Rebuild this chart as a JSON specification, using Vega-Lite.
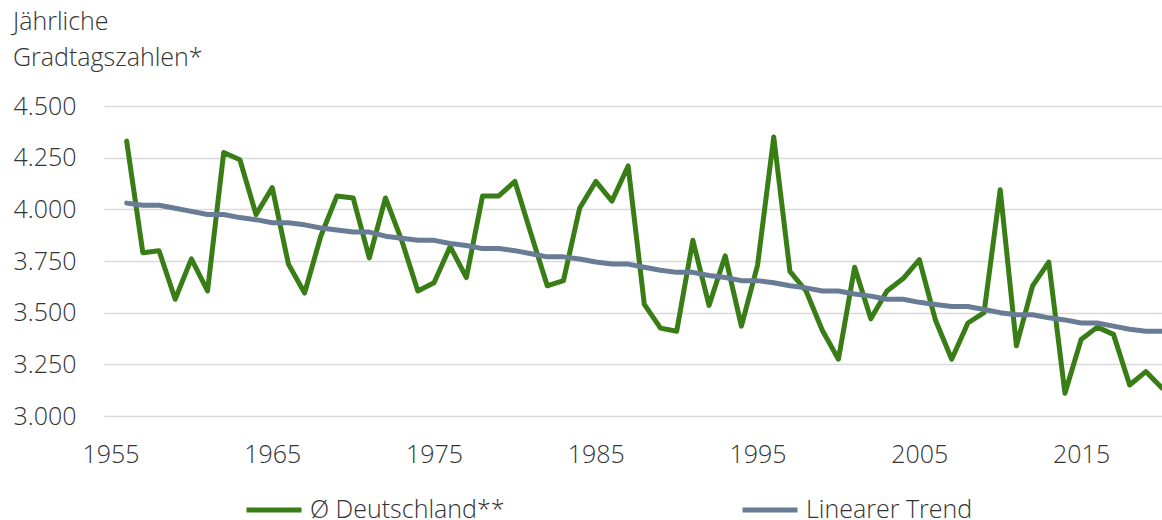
{
  "$schema": "https://vega.github.io/schema/vega-lite/v6.json",
  "autosize": "none",
  "padding": {"left": 104, "top": 106, "right": 0, "bottom": 104},
  "width": 1058,
  "height": 310,
  "background": "white",
  "title": {
    "text": ["Jährliche", "Gradtagszahlen*"],
    "anchor": "start",
    "frame": "group",
    "baseline": "top",
    "dx": -91,
    "offset": 23,
    "font": "Open Sans",
    "fontSize": 25,
    "fontWeight": 300,
    "lineHeight": 36,
    "color": "#333333"
  },
  "data": {
    "values": [
      {"year": 1956, "series": "Ø Deutschland**", "value": 4330},
      {"year": 1957, "series": "Ø Deutschland**", "value": 3790},
      {"year": 1958, "series": "Ø Deutschland**", "value": 3800},
      {"year": 1959, "series": "Ø Deutschland**", "value": 3565},
      {"year": 1960, "series": "Ø Deutschland**", "value": 3760},
      {"year": 1961, "series": "Ø Deutschland**", "value": 3605},
      {"year": 1962, "series": "Ø Deutschland**", "value": 4275},
      {"year": 1963, "series": "Ø Deutschland**", "value": 4240},
      {"year": 1964, "series": "Ø Deutschland**", "value": 3975},
      {"year": 1965, "series": "Ø Deutschland**", "value": 4105},
      {"year": 1966, "series": "Ø Deutschland**", "value": 3735},
      {"year": 1967, "series": "Ø Deutschland**", "value": 3595},
      {"year": 1968, "series": "Ø Deutschland**", "value": 3870},
      {"year": 1969, "series": "Ø Deutschland**", "value": 4065},
      {"year": 1970, "series": "Ø Deutschland**", "value": 4055},
      {"year": 1971, "series": "Ø Deutschland**", "value": 3765},
      {"year": 1972, "series": "Ø Deutschland**", "value": 4055},
      {"year": 1973, "series": "Ø Deutschland**", "value": 3850},
      {"year": 1974, "series": "Ø Deutschland**", "value": 3605},
      {"year": 1975, "series": "Ø Deutschland**", "value": 3645},
      {"year": 1976, "series": "Ø Deutschland**", "value": 3820},
      {"year": 1977, "series": "Ø Deutschland**", "value": 3670},
      {"year": 1978, "series": "Ø Deutschland**", "value": 4065},
      {"year": 1979, "series": "Ø Deutschland**", "value": 4065},
      {"year": 1980, "series": "Ø Deutschland**", "value": 4135},
      {"year": 1981, "series": "Ø Deutschland**", "value": 3880},
      {"year": 1982, "series": "Ø Deutschland**", "value": 3630},
      {"year": 1983, "series": "Ø Deutschland**", "value": 3655},
      {"year": 1984, "series": "Ø Deutschland**", "value": 4005},
      {"year": 1985, "series": "Ø Deutschland**", "value": 4135},
      {"year": 1986, "series": "Ø Deutschland**", "value": 4040},
      {"year": 1987, "series": "Ø Deutschland**", "value": 4210},
      {"year": 1988, "series": "Ø Deutschland**", "value": 3540},
      {"year": 1989, "series": "Ø Deutschland**", "value": 3425},
      {"year": 1990, "series": "Ø Deutschland**", "value": 3410},
      {"year": 1991, "series": "Ø Deutschland**", "value": 3850},
      {"year": 1992, "series": "Ø Deutschland**", "value": 3535},
      {"year": 1993, "series": "Ø Deutschland**", "value": 3775},
      {"year": 1994, "series": "Ø Deutschland**", "value": 3435},
      {"year": 1995, "series": "Ø Deutschland**", "value": 3730},
      {"year": 1996, "series": "Ø Deutschland**", "value": 4350},
      {"year": 1997, "series": "Ø Deutschland**", "value": 3700},
      {"year": 1998, "series": "Ø Deutschland**", "value": 3605},
      {"year": 1999, "series": "Ø Deutschland**", "value": 3415},
      {"year": 2000, "series": "Ø Deutschland**", "value": 3275},
      {"year": 2001, "series": "Ø Deutschland**", "value": 3720},
      {"year": 2002, "series": "Ø Deutschland**", "value": 3470},
      {"year": 2003, "series": "Ø Deutschland**", "value": 3605},
      {"year": 2004, "series": "Ø Deutschland**", "value": 3665},
      {"year": 2005, "series": "Ø Deutschland**", "value": 3757},
      {"year": 2006, "series": "Ø Deutschland**", "value": 3463},
      {"year": 2007, "series": "Ø Deutschland**", "value": 3275},
      {"year": 2008, "series": "Ø Deutschland**", "value": 3450},
      {"year": 2009, "series": "Ø Deutschland**", "value": 3500},
      {"year": 2010, "series": "Ø Deutschland**", "value": 4095},
      {"year": 2011, "series": "Ø Deutschland**", "value": 3340},
      {"year": 2012, "series": "Ø Deutschland**", "value": 3630},
      {"year": 2013, "series": "Ø Deutschland**", "value": 3745},
      {"year": 2014, "series": "Ø Deutschland**", "value": 3110},
      {"year": 2015, "series": "Ø Deutschland**", "value": 3370},
      {"year": 2016, "series": "Ø Deutschland**", "value": 3430},
      {"year": 2017, "series": "Ø Deutschland**", "value": 3395},
      {"year": 2018, "series": "Ø Deutschland**", "value": 3150},
      {"year": 2019, "series": "Ø Deutschland**", "value": 3215},
      {"year": 2020, "series": "Ø Deutschland**", "value": 3135},
      {"year": 1956, "series": "Linearer Trend", "value": 4030},
      {"year": 1957, "series": "Linearer Trend", "value": 4020},
      {"year": 1958, "series": "Linearer Trend", "value": 4020},
      {"year": 1959, "series": "Linearer Trend", "value": 4005},
      {"year": 1960, "series": "Linearer Trend", "value": 3990},
      {"year": 1961, "series": "Linearer Trend", "value": 3975},
      {"year": 1962, "series": "Linearer Trend", "value": 3975},
      {"year": 1963, "series": "Linearer Trend", "value": 3960},
      {"year": 1964, "series": "Linearer Trend", "value": 3950},
      {"year": 1965, "series": "Linearer Trend", "value": 3935},
      {"year": 1966, "series": "Linearer Trend", "value": 3935},
      {"year": 1967, "series": "Linearer Trend", "value": 3925},
      {"year": 1968, "series": "Linearer Trend", "value": 3910},
      {"year": 1969, "series": "Linearer Trend", "value": 3900},
      {"year": 1970, "series": "Linearer Trend", "value": 3890},
      {"year": 1971, "series": "Linearer Trend", "value": 3890},
      {"year": 1972, "series": "Linearer Trend", "value": 3870},
      {"year": 1973, "series": "Linearer Trend", "value": 3860},
      {"year": 1974, "series": "Linearer Trend", "value": 3850},
      {"year": 1975, "series": "Linearer Trend", "value": 3850},
      {"year": 1976, "series": "Linearer Trend", "value": 3835},
      {"year": 1977, "series": "Linearer Trend", "value": 3825},
      {"year": 1978, "series": "Linearer Trend", "value": 3810},
      {"year": 1979, "series": "Linearer Trend", "value": 3810},
      {"year": 1980, "series": "Linearer Trend", "value": 3800},
      {"year": 1981, "series": "Linearer Trend", "value": 3785},
      {"year": 1982, "series": "Linearer Trend", "value": 3770},
      {"year": 1983, "series": "Linearer Trend", "value": 3770},
      {"year": 1984, "series": "Linearer Trend", "value": 3760},
      {"year": 1985, "series": "Linearer Trend", "value": 3745},
      {"year": 1986, "series": "Linearer Trend", "value": 3735},
      {"year": 1987, "series": "Linearer Trend", "value": 3735},
      {"year": 1988, "series": "Linearer Trend", "value": 3720},
      {"year": 1989, "series": "Linearer Trend", "value": 3705},
      {"year": 1990, "series": "Linearer Trend", "value": 3695},
      {"year": 1991, "series": "Linearer Trend", "value": 3695},
      {"year": 1992, "series": "Linearer Trend", "value": 3680},
      {"year": 1993, "series": "Linearer Trend", "value": 3670},
      {"year": 1994, "series": "Linearer Trend", "value": 3655},
      {"year": 1995, "series": "Linearer Trend", "value": 3655},
      {"year": 1996, "series": "Linearer Trend", "value": 3645},
      {"year": 1997, "series": "Linearer Trend", "value": 3630},
      {"year": 1998, "series": "Linearer Trend", "value": 3620},
      {"year": 1999, "series": "Linearer Trend", "value": 3605},
      {"year": 2000, "series": "Linearer Trend", "value": 3605},
      {"year": 2001, "series": "Linearer Trend", "value": 3590},
      {"year": 2002, "series": "Linearer Trend", "value": 3580},
      {"year": 2003, "series": "Linearer Trend", "value": 3565},
      {"year": 2004, "series": "Linearer Trend", "value": 3565},
      {"year": 2005, "series": "Linearer Trend", "value": 3550},
      {"year": 2006, "series": "Linearer Trend", "value": 3540},
      {"year": 2007, "series": "Linearer Trend", "value": 3530},
      {"year": 2008, "series": "Linearer Trend", "value": 3530},
      {"year": 2009, "series": "Linearer Trend", "value": 3515},
      {"year": 2010, "series": "Linearer Trend", "value": 3500},
      {"year": 2011, "series": "Linearer Trend", "value": 3490},
      {"year": 2012, "series": "Linearer Trend", "value": 3490},
      {"year": 2013, "series": "Linearer Trend", "value": 3475},
      {"year": 2014, "series": "Linearer Trend", "value": 3465},
      {"year": 2015, "series": "Linearer Trend", "value": 3450},
      {"year": 2016, "series": "Linearer Trend", "value": 3450},
      {"year": 2017, "series": "Linearer Trend", "value": 3435},
      {"year": 2018, "series": "Linearer Trend", "value": 3420},
      {"year": 2019, "series": "Linearer Trend", "value": 3410},
      {"year": 2020, "series": "Linearer Trend", "value": 3410}
    ]
  },
  "mark": {"type": "line", "strokeWidth": 5, "strokeJoin": "round", "strokeCap": "round", "clip": false},
  "encoding": {
    "x": {
      "field": "year",
      "type": "quantitative",
      "scale": {"domain": [1954.6, 2020], "nice": false, "zero": false},
      "axis": {
        "values": [1955, 1965, 1975, 1985, 1995, 2005, 2015],
        "format": "d",
        "grid": false,
        "domain": false,
        "ticks": false,
        "labelPadding": 26,
        "labelFlush": false,
        "title": null
      }
    },
    "y": {
      "field": "value",
      "type": "quantitative",
      "scale": {"domain": [3000, 4500], "nice": false, "zero": false},
      "axis": {
        "values": [3000, 3250, 3500, 3750, 4000, 4250, 4500],
        "labelExpr": "replace(format(datum.value, ','), ',', '.')",
        "grid": true,
        "gridColor": "#d9d9d9",
        "gridWidth": 1.5,
        "domain": false,
        "ticks": false,
        "labelPadding": 28,
        "title": null
      }
    },
    "color": {
      "field": "series",
      "type": "nominal",
      "sort": ["Ø Deutschland**", "Linearer Trend"],
      "scale": {"domain": ["Ø Deutschland**", "Linearer Trend"], "range": ["#387d15", "#687c95"]},
      "legend": {
        "orient": "none",
        "legendX": 140,
        "legendY": 374,
        "direction": "horizontal",
        "title": null,
        "symbolType": "stroke",
        "symbolSize": 3025,
        "symbolStrokeWidth": 5,
        "labelOffset": 6,
        "columnPadding": 227,
        "padding": 0
      }
    }
  },
  "config": {
    "view": {"stroke": null},
    "font": "Open Sans",
    "axis": {
      "labelFont": "Open Sans",
      "labelFontSize": 25,
      "labelFontWeight": 300,
      "labelColor": "#333333"
    },
    "legend": {
      "labelFont": "Open Sans",
      "labelFontSize": 25,
      "labelFontWeight": 300,
      "labelColor": "#333333",
      "labelLimit": 400
    }
  }
}
